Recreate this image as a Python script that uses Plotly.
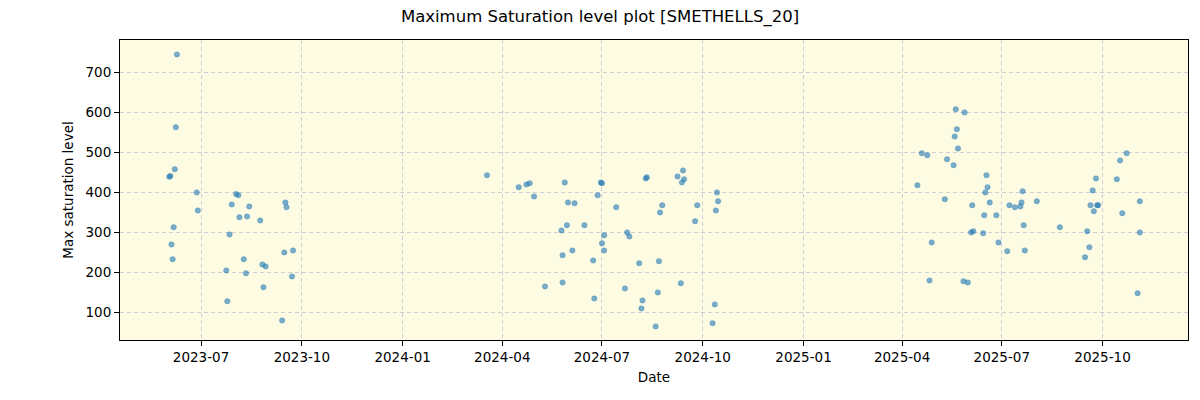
import plotly.graph_objects as go

dates_2023 = ["2023-06-09", "2023-06-08", "2023-06-07", "2023-06-02", "2023-06-03",
              "2023-06-27", "2023-06-28", "2023-06-06", "2023-06-04", "2023-06-05",
              "2023-08-02", "2023-08-04", "2023-07-29", "2023-08-14", "2023-08-05",
              "2023-08-12", "2023-08-24", "2023-07-27", "2023-09-16", "2023-09-17",
              "2023-09-15", "2023-09-23", "2023-08-09", "2023-08-26", "2023-08-29",
              "2023-07-24", "2023-08-11", "2023-09-22", "2023-08-27", "2023-07-25",
              "2023-09-13"]
values_2023 = [744, 562, 457, 438, 440, 399, 354, 312, 269, 232,
               395, 392, 369, 364, 337, 339, 329, 294, 374, 362,
               249, 254, 232, 219, 214, 204, 197, 189, 162, 127,
               79]

dates_2024 = ["2024-03-18", "2024-04-16", "2024-04-23", "2024-04-26", "2024-04-30",
              "2024-05-28", "2024-06-30", "2024-07-01", "2024-06-27", "2024-05-31",
              "2024-06-06", "2024-07-14", "2024-08-10", "2024-08-11", "2024-09-08",
              "2024-09-13", "2024-09-12", "2024-09-14", "2024-10-14", "2024-10-15",
              "2024-10-13", "2024-08-25", "2024-08-23", "2024-09-26", "2024-09-24",
              "2024-05-30", "2024-05-25", "2024-06-15", "2024-07-03", "2024-07-24",
              "2024-07-26", "2024-07-01", "2024-07-03", "2024-06-04", "2024-05-26",
              "2024-06-23", "2024-08-04", "2024-08-22", "2024-05-10", "2024-05-26",
              "2024-06-24", "2024-07-22", "2024-09-11", "2024-08-21", "2024-08-07",
              "2024-08-06", "2024-08-19", "2024-10-12", "2024-10-10"]
values_2024 = [442, 412, 419, 422, 389, 424, 424, 422, 392, 374,
               372, 362, 434, 437, 439, 454, 424, 432, 399, 377,
               354, 367, 349, 367, 327, 317, 304, 317, 292, 299,
               289, 272, 254, 254, 242, 229, 222, 227, 164, 174,
               134, 159, 172, 149, 129, 109, 64, 119, 72]

dates_2025 = ["2025-05-20", "2025-05-28", "2025-05-21", "2025-05-19", "2025-05-22",
              "2025-04-19", "2025-04-24", "2025-05-12", "2025-05-18", "2025-04-15",
              "2025-05-10", "2025-06-17", "2025-06-18", "2025-06-16", "2025-06-20",
              "2025-06-04", "2025-06-15", "2025-06-26", "2025-06-03", "2025-06-05",
              "2025-06-14", "2025-06-28", "2025-07-08", "2025-07-13", "2025-07-18",
              "2025-07-19", "2025-07-20", "2025-08-02", "2025-07-21", "2025-07-06",
              "2025-07-22", "2025-08-23", "2025-04-28", "2025-04-26", "2025-05-27",
              "2025-05-31", "2025-09-25", "2025-09-22", "2025-09-20", "2025-09-26",
              "2025-09-27", "2025-09-23", "2025-09-17", "2025-09-19", "2025-09-15",
              "2025-10-14", "2025-10-17", "2025-10-23", "2025-10-19", "2025-11-04",
              "2025-11-04", "2025-11-02"]
values_2025 = [607, 599, 557, 539, 509, 497, 492, 482, 467, 417,
               382, 442, 412, 399, 374, 367, 342, 342, 299, 302,
               297, 274, 367, 362, 364, 374, 402, 377, 317, 252,
               254, 312, 274, 179, 177, 174, 434, 404, 367, 367,
               367, 352, 302, 262, 237, 432, 479, 497, 347, 377,
               299, 147]

dates = dates_2023 + dates_2024 + dates_2025
values = values_2023 + values_2024 + values_2025

x_tick_vals = ["2023-07-01", "2023-10-01", "2024-01-01", "2024-04-01", "2024-07-01",
               "2024-10-01", "2025-01-01", "2025-04-01", "2025-07-01", "2025-10-01"]
x_tick_text = ["2023-07", "2023-10", "2024-01", "2024-04", "2024-07",
               "2024-10", "2025-01", "2025-04", "2025-07", "2025-10"]
y_tick_vals = [100, 200, 300, 400, 500, 600, 700]

fig = go.Figure()
fig.add_trace(go.Scatter(
    x=dates, y=values, mode="markers",
    marker=dict(size=5.5, color="rgba(31,119,180,0.6)",
                line=dict(width=0.8, color="rgba(31,119,180,0.3)")),
    showlegend=False,
))

font = "DejaVu Sans"
fig.update_layout(
    width=1200, height=400,
    margin=dict(l=120, r=12, t=40, b=60),
    paper_bgcolor="white",
    plot_bgcolor="#fdfce3",
    font=dict(family=font, size=13.5, color="black"),
    title=dict(text="Maximum Saturation level plot [SMETHELLS_20]",
               x=0.5, xanchor="center", y=0.96, yanchor="middle",
               font=dict(family=font, size=16.5, color="black")),
)
grid_kw = dict(showgrid=True, gridcolor="#cfcfd6", griddash="4px,3px", gridwidth=1)
fig.update_xaxes(
    type="date", range=["2023-04-18", "2025-12-18"],
    tickvals=x_tick_vals, ticktext=x_tick_text,
    showline=True, linecolor="black", linewidth=1, mirror=True,
    ticks="outside", ticklen=5, tickcolor="black",
    title=dict(text="Date", font=dict(family=font, size=13.5), standoff=8),
    zeroline=False, **grid_kw,
)
fig.update_yaxes(
    range=[30, 780], tickvals=y_tick_vals,
    showline=True, linecolor="black", linewidth=1, mirror=True,
    ticks="outside", ticklen=5, tickcolor="black",
    title=dict(text="Max saturation level", font=dict(family=font, size=13.5), standoff=8),
    zeroline=False, **grid_kw,
)

fig.write_html("out.html")
